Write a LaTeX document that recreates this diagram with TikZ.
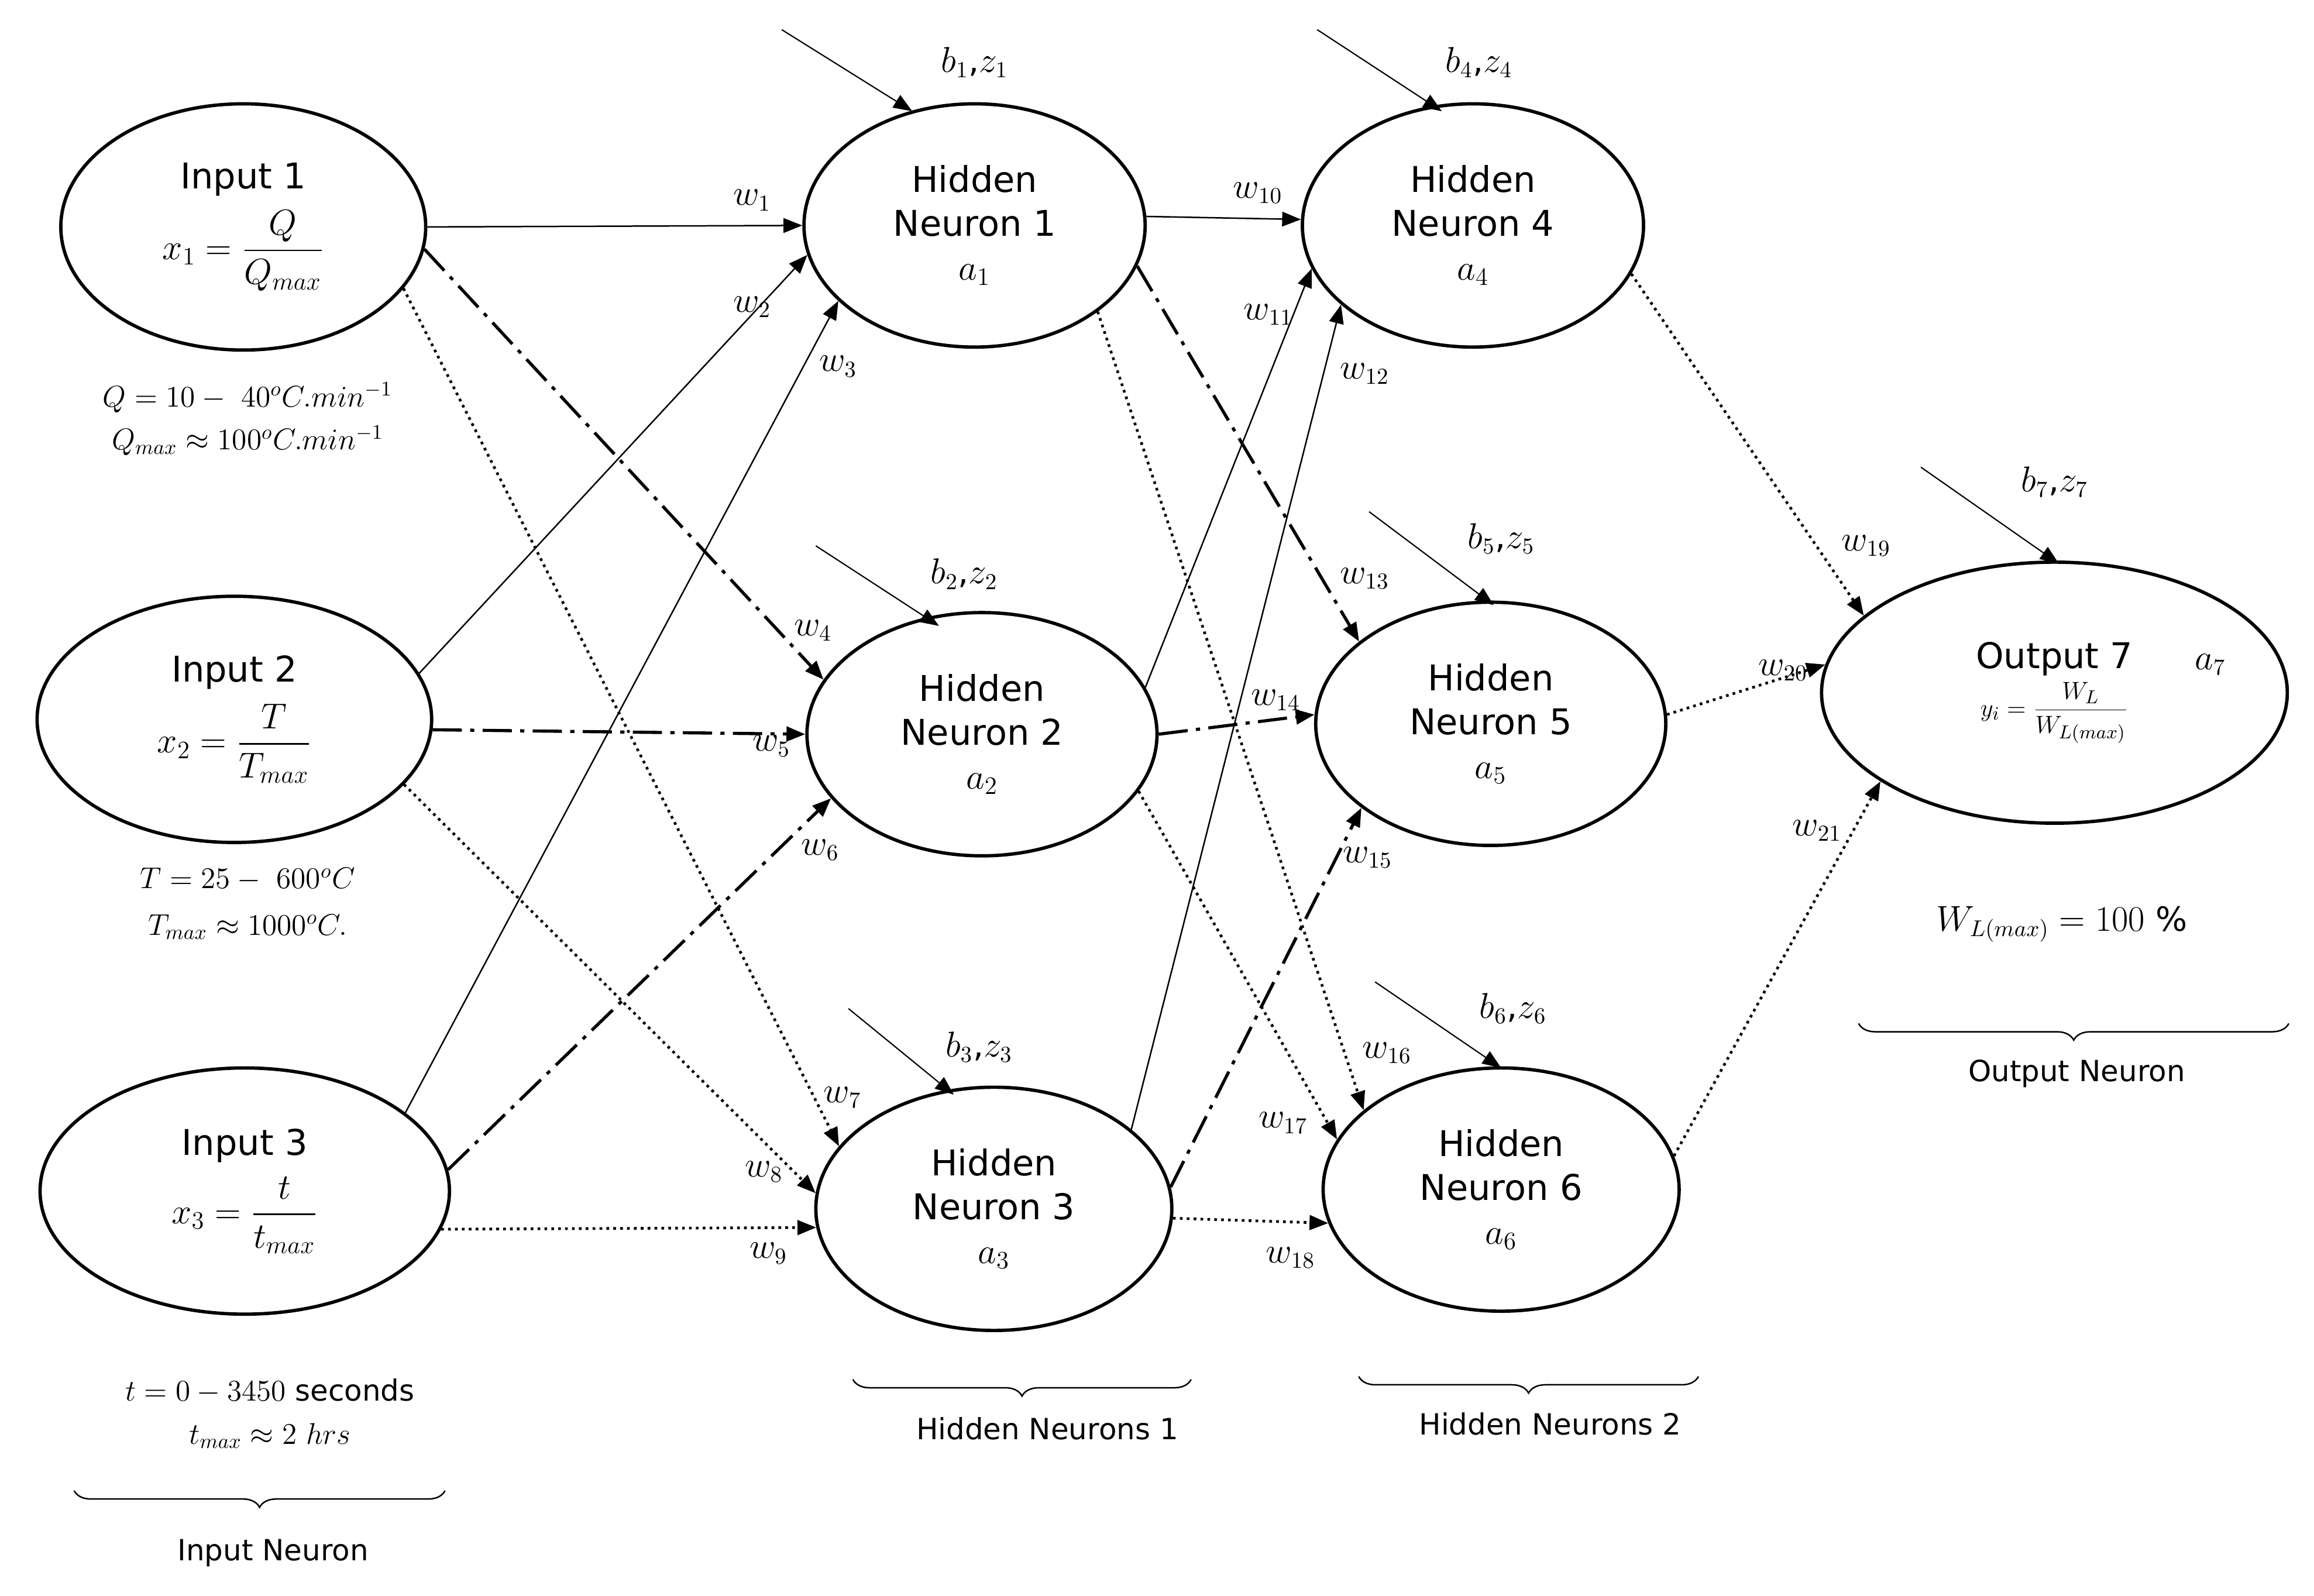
\documentclass[tikz,border=0pt]{standalone}
\usepackage{amsmath}
\usepackage{fontspec}
\setmainfont{DejaVu Sans}
\usepackage{tikz}
\usetikzlibrary{shapes.geometric,arrows.meta,decorations.pathreplacing}

\tikzset{
  neuron/.style={ellipse, draw, line width=1.6pt, inner sep=0pt, align=center,
    font=\fontsize{17}{21}\selectfont},
  link/.style={-{Triangle[length=9pt,width=7pt]}, line width=0.7pt},
  sol/.style={link},
  dd/.style={link, line width=1.5pt, dash pattern=on 14pt off 4pt on 2pt off 4pt},
  dot/.style={link, line width=1.3pt, dotted},
  bias/.style={-{Triangle[length=9pt,width=7pt]}, line width=0.6pt},
  wlab/.style={font=\fontsize{16}{18}\selectfont},
  note/.style={font=\fontsize{14}{17}\selectfont},
  brc/.style={decorate, decoration={brace, mirror, amplitude=8pt}, line width=0.7pt}
}

\begin{document}
\begin{tikzpicture}[x=0.25mm, y=-0.25mm]
\useasboundingbox (0,0) rectangle (1560,1076);

% input neurons
\node[neuron, minimum width=246*0.25mm, minimum height=166*0.25mm] (in1) at (164,153)
  {Input 1\\[6pt] $x_1=\dfrac{Q}{Q_{max}}$};
\node[neuron, minimum width=266*0.25mm, minimum height=166*0.25mm] (in2) at (158,485)
  {Input 2\\[6pt] $x_2=\dfrac{T}{T_{max}}$};
\node[neuron, minimum width=276*0.25mm, minimum height=166*0.25mm] (in3) at (165,803)
  {Input 3\\[6pt] $x_3=\dfrac{t}{t_{max}}$};

% hidden layer 1
\node[neuron, minimum width=230*0.25mm, minimum height=164*0.25mm] (h1) at (657,152)
  {Hidden\\Neuron 1\\$a_1$};
\node[neuron, minimum width=236*0.25mm, minimum height=164*0.25mm] (h2) at (662,495)
  {Hidden\\Neuron 2\\$a_2$};
\node[neuron, minimum width=240*0.25mm, minimum height=164*0.25mm] (h3) at (670,815)
  {Hidden\\Neuron 3\\$a_3$};

% hidden layer 2
\node[neuron, minimum width=230*0.25mm, minimum height=164*0.25mm] (h4) at (993,152)
  {Hidden\\Neuron 4\\$a_4$};
\node[neuron, minimum width=236*0.25mm, minimum height=164*0.25mm] (h5) at (1005,488)
  {Hidden\\Neuron 5\\$a_5$};
\node[neuron, minimum width=240*0.25mm, minimum height=164*0.25mm] (h6) at (1012,802)
  {Hidden\\Neuron 6\\$a_6$};

% output
\node[neuron, minimum width=314*0.25mm, minimum height=176*0.25mm] (out) at (1385,467)
  {Output 7\\[2pt] {\fontsize{13}{15}\selectfont $y_i=\dfrac{W_L}{W_{L(max)}}$}};
\node[wlab] (a7) at (1490,448) {$a_7$};

% input -> hidden 1
\draw[sol] (in1.0) -- (h1.180);
\draw[sol] (in2.14) -- (h1.190);
\draw[sol] (in3.26) -- (h1.209);
\draw[dd] (in1.-7) -- (h2.161);
\draw[dd] (in2.-3) -- (h2.180);
\draw[dd] (in3.6) -- (h2.203);
\draw[dot] (in1.-21) -- (h3.158);
\draw[dot] (in2.-21) -- (h3.175);
\draw[dot] (in3.-11) -- (h3.186);

% hidden 1 -> hidden 2
\draw[sol] (h1.3) -- (h4.178);
\draw[sol] (h2.16) -- (h4.195);
\draw[sol] (h3.30) -- (h4.211);
\draw[dd] (h1.-14) -- (h5.148);
\draw[dd] (h2.0) -- (h5.177);
\draw[dd] (h3.7) -- (h5.213);
\draw[dot] (h1.-35) -- (h6.150);
\draw[dot] (h2.-20) -- (h6.163);
\draw[dot] (h3.-3) -- (h6.191);

% hidden 2 -> output
\draw[dot] (h4.-17) -- (out.158);
\draw[dot] (h5.3) -- (out.173);
\draw[dot] (h6.11) -- (out.207);

% weights
\foreach \n/\x/\y in {1/507/135, 2/507/207, 3/565/247, 4/548/425, 5/520/503,
  6/553/573, 7/568/740, 8/515/790, 9/518/845, 10/848/130, 11/855/212,
  12/920/252, 13/920/390, 14/860/472, 15/922/578, 16/935/710, 17/865/757,
  18/870/848, 19/1258/368, 20/1202/452, 21/1225/560}
  \node[wlab] (w\n) at (\x,\y) {$w_{\n}$};

% biases
\foreach \n/\lx/\ly/\sx/\sy/\tx/\ty in {1/657/42/527/20/615/75, 2/650/387/550/368/633/422,
  3/660/706/572/680/643/738, 4/997/42/888/20/972/75, 5/1012/363/923/345/1007/408,
  6/1020/680/927/662/1012/720, 7/1385/325/1295/315/1388/380}
{
  \node[wlab] (b\n) at (\lx,\ly) {$b_{\n}$,$z_{\n}$};
  \coordinate (bs\n) at (\sx,\sy);
  \coordinate (bt\n) at (\tx,\ty);
  \draw[bias] (bs\n) -- (bt\n);
}

% ranges
\node[note] (q1) at (167,268) {$Q=10-\ 40^oC.min^{-1}$};
\node[note] (q2) at (167,297) {$Q_{max}\approx100^oC.min^{-1}$};
\node[note] (t1) at (167,593) {$T=25-\ 600^oC$};
\node[note] (t2) at (167,625) {$T_{max}\approx1000^oC.$};
\node[note] (s1) at (182,938) {$t=0-3450$ seconds};
\node[note] (s2) at (182,968) {$t_{max}\approx2\ hrs$};
\node[wlab] (wl) at (1390,623) {$W_{L(max)}=100$ \%};

% braces
\draw[brc] (50,1005) -- (300,1005);
\node[note] (lin) at (184,1047) {Input Neuron};
\draw[brc] (575,930) -- (803,930);
\node[note] (lh1) at (706,963) {Hidden Neurons 1};
\draw[brc] (916,928) -- (1145,928);
\node[note] (lh2) at (1045,960) {Hidden Neurons 2};
\draw[brc] (1253,690) -- (1543,690);
\node[note] (lout) at (1400,724) {Output Neuron};
\end{tikzpicture}
\end{document}
